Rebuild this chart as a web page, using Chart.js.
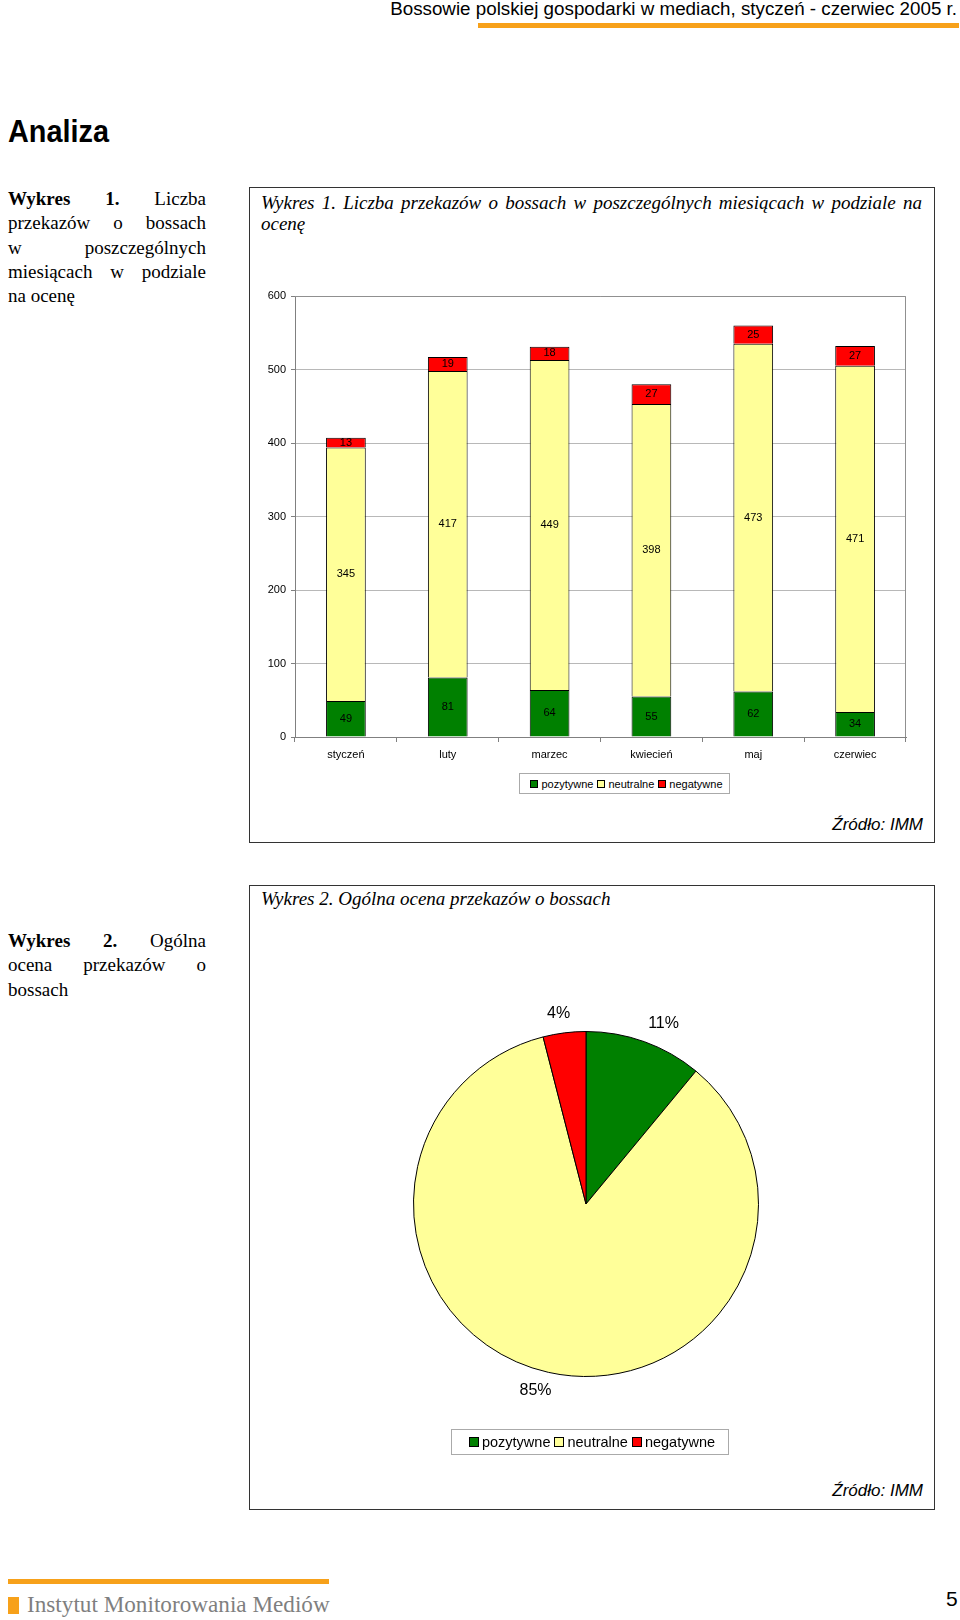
<!DOCTYPE html>
<html>
<head>
<meta charset="utf-8">
<script src="https://cdn.jsdelivr.net/npm/chart.js@4"></script>
<style>
  body { margin: 0; width: 960px; height: 1620px; background: #fff; position: relative; overflow: hidden; }
  .abs { position: absolute; }
  .sans { font-family: "Liberation Sans", Arial, sans-serif; }
  .serif { font-family: "Liberation Serif", "Times New Roman", serif; }
  .box { position: absolute; border: 1px solid #333; box-sizing: border-box; }
  .side div { text-align: justify; text-align-last: justify; white-space: nowrap; }
  .side div.last { text-align-last: left; }
  .side { font-size: 19px; line-height: 24.3px; width: 198px; }
  .title { font-style: italic; font-size: 19px; line-height: 21px; }
  .legend { position: absolute; border: 1px solid #aaa; display: flex; align-items: center; justify-content: center; box-sizing: border-box; }
  .legend span.sw { display: inline-block; border: 1px solid #000; margin: 0 3px 0 4px; box-sizing: border-box; }
  .src { font-style: italic; font-size: 17px; }
</style>
</head>
<body>
<div class="abs sans" style="right:3px;top:-2px;font-size:18.8px;color:#000;">Bossowie polskiej gospodarki w mediach, styczeń - czerwiec 2005 r.</div>
<div class="abs" style="left:478px;top:23px;width:481px;height:5px;background:#F7A11A;"></div>
<div class="abs sans" style="left:8px;top:114px;font-size:31px;font-weight:bold;transform:scaleX(0.93);transform-origin:left;">Analiza</div>

<div class="abs serif side" style="left:8px;top:187px;">
  <div><b>Wykres 1.</b> Liczba</div>
  <div>przekazów o bossach</div>
  <div>w poszczególnych</div>
  <div>miesiącach w podziale</div>
  <div class="last">na ocenę</div>
</div>

<div class="box" style="left:249px;top:187px;width:686px;height:656px;"></div>
<div class="abs serif title" style="left:261px;top:192px;width:661px;">
  <div style="text-align:justify;text-align-last:justify;white-space:nowrap;">Wykres 1. Liczba przekazów o bossach w poszczególnych miesiącach w podziale na</div>
  <div>ocenę</div>
</div>
<canvas id="barChart" class="abs" style="left:249px;top:270px;" width="685" height="497"></canvas>
<div class="legend sans" style="left:519px;top:773px;width:211px;height:21px;font-size:11px;">
  <span class="sw" style="width:8px;height:8px;background:#008000;"></span>pozytywne
  <span class="sw" style="width:8px;height:8px;background:#FFFF99;"></span>neutralne
  <span class="sw" style="width:8px;height:8px;background:#FF0000;"></span>negatywne
</div>
<div class="abs sans src" style="right:37px;top:815px;">Źródło: IMM</div>

<div class="abs serif side" style="left:8px;top:929px;">
  <div><b>Wykres 2.</b> Ogólna</div>
  <div>ocena przekazów o</div>
  <div class="last">bossach</div>
</div>

<div class="box" style="left:249px;top:885px;width:686px;height:625px;"></div>
<div class="abs serif title" style="left:261px;top:888px;">Wykres 2. Ogólna ocena przekazów o bossach</div>
<canvas id="pieChart" class="abs" style="left:346px;top:964px;" width="480" height="480"></canvas>
<div class="legend sans" style="left:451px;top:1429px;width:278px;height:26px;font-size:14.5px;">
  <span class="sw" style="width:10px;height:10px;background:#008000;"></span>pozytywne
  <span class="sw" style="width:10px;height:10px;background:#FFFF99;"></span>neutralne
  <span class="sw" style="width:10px;height:10px;background:#FF0000;"></span>negatywne
</div>
<div class="abs sans src" style="right:37px;top:1481px;">Źródło: IMM</div>

<div class="abs" style="left:8px;top:1579px;width:321px;height:5px;background:#F7A11A;"></div>
<div class="abs" style="left:8px;top:1597px;width:11px;height:17px;background:#F7A11A;"></div>
<div class="abs serif" style="left:27px;top:1591px;font-size:23.2px;color:#7f7f7f;">Instytut Monitorowania Mediów</div>
<div class="abs sans" style="left:946px;top:1587px;font-size:21px;">5</div>

<script>
const months = ['styczeń', 'luty', 'marzec', 'kwiecień', 'maj', 'czerwiec'];
const positive = [49, 81, 64, 55, 62, 34];
const neutral = [345, 417, 449, 398, 473, 471];
const negative = [13, 19, 18, 27, 25, 27];
const yTicks = [0, 100, 200, 300, 400, 500, 600];

const pieLabels = ['pozytywne', 'neutralne', 'negatywne'];
const pieValues = [11, 85, 4];

const GREEN = '#008000', YELLOW = '#FFFF99', RED = '#FF0000';
const FONT = '"Liberation Sans", Arial, sans-serif';

// numbers in the middle of every stacked segment
const segmentLabels = {
    id: 'segmentLabels',
    afterDatasetsDraw(chart) {
        const ctx = chart.ctx;
        ctx.save();
        ctx.font = '11px ' + FONT;
        ctx.fillStyle = '#000';
        ctx.textAlign = 'center';
        ctx.textBaseline = 'middle';
        chart.data.datasets.forEach((ds, i) => {
            chart.getDatasetMeta(i).data.forEach((bar, j) => {
                ctx.fillText(ds.data[j], bar.x, (bar.y + bar.base) / 2);
            });
        });
        ctx.restore();
    }
};

// grey frame on top and right of the plot area
const plotFrame = {
    id: 'plotFrame',
    beforeDatasetsDraw(chart) {
        const a = chart.chartArea, ctx = chart.ctx;
        ctx.save();
        ctx.strokeStyle = '#909090';
        ctx.lineWidth = 1;
        ctx.beginPath();
        ctx.moveTo(a.left, a.top + 0.5);
        ctx.lineTo(a.right - 0.5, a.top + 0.5);
        ctx.lineTo(a.right - 0.5, a.bottom);
        ctx.stroke();
        ctx.restore();
    }
};

new Chart(document.getElementById('barChart').getContext('2d'), {
    type: 'bar',
    data: {
        labels: months,
        datasets: [
            { label: 'pozytywne', data: positive, backgroundColor: GREEN },
            { label: 'neutralne', data: neutral, backgroundColor: YELLOW },
            { label: 'negatywne', data: negative, backgroundColor: RED }
        ].map(d => Object.assign(d, {
            borderColor: '#000', borderWidth: 1, borderSkipped: 'start',
            barPercentage: 0.39, categoryPercentage: 1
        }))
    },
    options: {
        responsive: false,
        animation: false,
        layout: { padding: { top: 26, right: 28, left: 0, bottom: 0 } },
        plugins: { legend: { display: false }, tooltip: { enabled: false } },
        scales: {
            x: {
                stacked: true,
                afterFit: s => { s.height = 30; },
                grid: { drawOnChartArea: false, offset: true, tickLength: 5, color: '#808080' },
                border: { color: '#808080' },
                ticks: { color: '#000', font: { family: FONT, size: 11 }, padding: 6 }
            },
            y: {
                stacked: true,
                min: 0, max: 600,
                afterFit: s => { s.width = 46; },
                afterBuildTicks: s => { s.ticks = yTicks.map(v => ({ value: v })); },
                grid: { color: '#b8b8b8', tickLength: 4, tickColor: '#808080' },
                border: { color: '#808080' },
                ticks: { color: '#000', font: { family: FONT, size: 11 }, padding: 5 }
            }
        }
    },
    plugins: [plotFrame, segmentLabels]
});

// percent labels outside the pie, box corner sitting next to the rim
const outsideLabels = {
    id: 'outsideLabels',
    afterDatasetsDraw(chart) {
        const ctx = chart.ctx;
        const clamp = v => Math.max(-1, Math.min(1, v));
        ctx.save();
        ctx.font = '16px ' + FONT;
        ctx.fillStyle = '#000';
        ctx.textAlign = 'center';
        ctx.textBaseline = 'middle';
        chart.getDatasetMeta(0).data.forEach((arc, i) => {
            const text = pieValues[i] + '%';
            const w = ctx.measureText(text).width, h = 16;
            const mid = (arc.startAngle + arc.endAngle) / 2;
            const r = arc.outerRadius + 11;
            const cx = arc.x + Math.cos(mid) * r + w / 2 * clamp(Math.cos(mid) * 3);
            const cy = arc.y + Math.sin(mid) * r + h / 2 * clamp(Math.sin(mid) * 3);
            ctx.fillText(text, cx, cy);
        });
        ctx.restore();
    }
};

new Chart(document.getElementById('pieChart').getContext('2d'), {
    type: 'pie',
    data: {
        labels: pieLabels,
        datasets: [{
            data: pieValues,
            backgroundColor: [GREEN, YELLOW, RED],
            borderColor: '#000',
            borderWidth: 1
        }]
    },
    options: {
        responsive: false,
        animation: false,
        layout: { padding: 67 },
        plugins: { legend: { display: false }, tooltip: { enabled: false } }
    },
    plugins: [outsideLabels]
});
</script>
</body>
</html>
